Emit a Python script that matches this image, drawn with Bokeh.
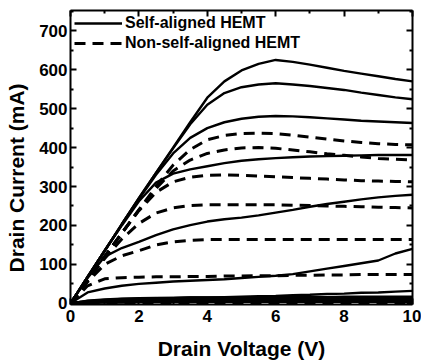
from bokeh.plotting import figure
from bokeh.models import Range1d, FixedTicker, LinearAxis, Legend, LegendItem
from bokeh.embed import file_html
from bokeh.resources import INLINE

# Drain voltage (V) grid
vd = [0, 0.5, 1, 1.5, 2, 2.5, 3, 3.5, 4, 4.5, 5, 5.5, 6, 6.5, 7, 7.5, 8, 8.5, 9, 9.5, 10]

# Self-aligned HEMT drain current (mA)
sa_1 = [0, 68, 135, 203, 270, 335, 400, 465, 528, 570, 598, 615, 625, 620, 613, 605, 597, 590, 583, 576, 570]
sa_2 = [0, 68, 135, 203, 270, 335, 398, 460, 510, 540, 555, 562, 565, 562, 558, 553, 548, 541, 535, 529, 524]
sa_3 = [0, 68, 135, 203, 268, 330, 385, 425, 450, 465, 474, 479, 481, 480, 478, 475, 472, 469, 467, 465, 463]
sa_4 = [0, 68, 135, 200, 262, 310, 333, 344, 352, 360, 366, 370, 373, 375, 377, 378, 379, 380, 381, 381, 381]
sa_5 = [0, 65, 120, 142, 158, 175, 190, 201, 210, 216, 220, 226, 233, 240, 248, 255, 261, 267, 272, 276, 279]
sa_6 = [0, 28, 38, 45, 50, 53, 56, 58, 60, 62, 65, 68, 71, 75, 82, 89, 96, 103, 110, 128, 140]
sa_7 = [0, 6, 9, 11, 12, 13, 14, 15, 15, 16, 17, 18, 19, 21, 22, 24, 25, 27, 28, 30, 32]
sa_8 = [0, 7, 10, 12, 13, 14, 14, 15, 15, 15, 15, 16, 16, 16, 16, 16, 17, 17, 17, 17, 17]
sa_9 = [0, 5, 7, 9, 10, 10, 11, 11, 11, 11, 12, 12, 12, 12, 12, 12, 12, 13, 13, 13, 13]
sa_10 = [0, 3, 5, 6, 6, 7, 7, 7, 7, 8, 8, 8, 8, 8, 8, 8, 8, 8, 9, 9, 9]
sa_11 = [0, 1, 2, 2, 3, 3, 3, 3, 4, 4, 4, 4, 4, 4, 4, 4, 4, 4, 4, 4, 4]

# Non-self-aligned HEMT drain current (mA)
ns_1 = [0, 60, 120, 180, 240, 300, 355, 395, 420, 431, 436, 437, 436, 432, 427, 422, 417, 413, 410, 408, 407]
ns_2 = [0, 60, 120, 180, 240, 295, 340, 368, 385, 394, 399, 400, 398, 394, 389, 384, 380, 376, 372, 370, 368]
ns_3 = [0, 60, 120, 180, 238, 285, 312, 324, 329, 330, 329, 327, 325, 323, 321, 319, 317, 315, 314, 313, 312]
ns_4 = [0, 58, 115, 165, 205, 232, 245, 251, 253, 253, 253, 253, 253, 252, 251, 250, 249, 248, 247, 246, 245]
ns_5 = [0, 55, 100, 122, 135, 150, 158, 162, 164, 164, 164, 164, 164, 164, 164, 164, 164, 164, 164, 164, 164]
ns_6 = [0, 45, 63, 66, 67, 68, 68, 69, 69, 70, 70, 71, 71, 72, 72, 73, 73, 74, 74, 74, 74]
ns_7 = [0, 4, 6, 8, 9, 9, 10, 10, 10, 10, 11, 11, 11, 11, 11, 11, 11, 11, 11, 11, 11]
ns_8 = [0, 1, 1, 1, 1, 1, 2, 2, 2, 2, 2, 2, 2, 2, 2, 2, 2, 2, 2, 2, 2]

x_ticks = [0, 2, 4, 6, 8, 10]
x_minor = [1, 3, 5, 7, 9]
y_ticks = [0, 100, 200, 300, 400, 500, 600, 700]
y_minor = [50, 150, 250, 350, 450, 550, 650, 750]

FONT = "Liberation Sans"
NBSP = "\u00a0"

p = figure(frame_width=342, frame_height=294, output_backend="svg",
           toolbar_location=None, x_range=Range1d(0, 10), y_range=Range1d(-3, 752),
           min_border_left=70, min_border_right=9, min_border_top=10, min_border_bottom=56)
p.grid.visible = False
p.outline_line_color = None
p.background_fill_color = "white"
p.border_fill_color = "white"

solid = dict(line_color="black", line_width=2.4)
dashed = dict(line_color="black", line_width=3, line_dash="11 7")

r_sa = None
for ys in [sa_1, sa_2, sa_3, sa_4, sa_5, sa_6, sa_7, sa_8, sa_9, sa_10, sa_11]:
    r = p.line(vd, ys, **solid)
    if r_sa is None:
        r_sa = r

r_ns = None
for ys in [ns_1, ns_2, ns_3, ns_4, ns_5, ns_6, ns_7, ns_8]:
    r = p.line(vd, ys, **dashed)
    if r_ns is None:
        r_ns = r

def style(ax, labels=True, ticks=None):
    ax.axis_line_width = 2
    ax.major_tick_in = 6
    ax.major_tick_out = 0
    ax.minor_tick_in = 3
    ax.minor_tick_out = 0
    ax.major_tick_line_width = 2
    ax.minor_tick_line_width = 2
    if labels:
        ax.major_label_text_font = FONT
        ax.major_label_text_font_style = "bold"
        ax.major_label_text_font_size = "17px"
        ax.major_label_text_color = "black"
        ax.axis_label_text_font = FONT
        ax.axis_label_text_font_style = "bold"
        ax.axis_label_text_font_size = "21px"
        ax.axis_label_text_color = "black"
    else:
        ax.major_label_overrides = {t: "" for t in ticks}
        ax.major_label_standoff = 0

xa = p.xaxis[0]
xa.ticker = FixedTicker(ticks=x_ticks, minor_ticks=x_minor)
xa.axis_label = "Drain Voltage (V)"
style(xa)
xa.major_label_standoff = 5
xa.axis_label_standoff = 12

ya = p.yaxis[0]
ya.ticker = FixedTicker(ticks=y_ticks, minor_ticks=y_minor)
ya.axis_label = "Drain Current (mA)" + NBSP * 7
style(ya)
ya.major_label_standoff = 3
ya.axis_label_standoff = 8

top = LinearAxis(ticker=FixedTicker(ticks=x_ticks, minor_ticks=x_minor))
style(top, labels=False, ticks=x_ticks)
p.add_layout(top, "above")
right = LinearAxis(ticker=FixedTicker(ticks=y_ticks, minor_ticks=y_minor))
style(right, labels=False, ticks=y_ticks)
p.add_layout(right, "right")

legend = Legend(items=[LegendItem(label="Self-aligned HEMT", renderers=[r_sa]),
                       LegendItem(label="Non-self-aligned HEMT", renderers=[r_ns])],
                location="top_left")
legend.border_line_color = None
legend.background_fill_alpha = 0
legend.margin = 4
legend.padding = 2
legend.spacing = 2
legend.glyph_width = 48
legend.glyph_height = 18
legend.label_height = 18
legend.label_standoff = 3
legend.label_text_font = FONT
legend.label_text_font_size = "16px"
legend.label_text_font_style = "bold"
legend.label_text_color = "black"
p.add_layout(legend)

open("out.html", "w").write(file_html(p, INLINE))
